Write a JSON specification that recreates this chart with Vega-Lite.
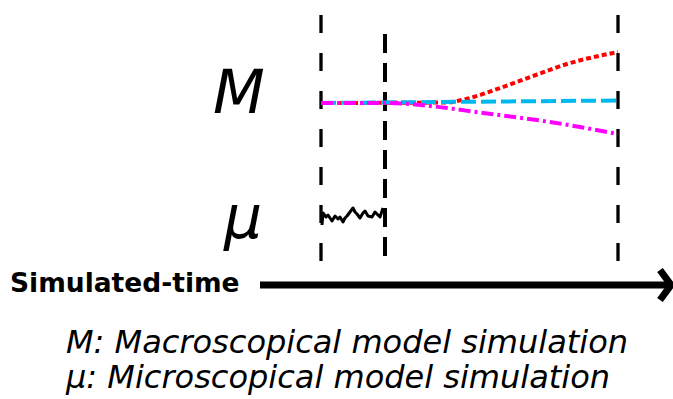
{
  "$schema": "https://vega.github.io/schema/vega-lite/v6.json",
  "width": 673,
  "height": 399,
  "autosize": {"type": "none"},
  "padding": 0,
  "background": "white",
  "config": {"view": {"stroke": null}},
  "datasets": {
    "vlines": [
      {"name": "start", "x": 321, "top": 15, "bottom": 267},
      {"name": "end", "x": 618, "top": 15, "bottom": 267}
    ],
    "vline2": [
      {"name": "switch", "x": 385, "top": 34, "bottom": 259}
    ],
    "red": [
      {"x": 321, "y": 103}, {"x": 445, "y": 102.5}, {"x": 470, "y": 98},
      {"x": 500, "y": 88}, {"x": 533, "y": 76}, {"x": 567, "y": 64}, {"x": 618, "y": 52}
    ],
    "cyan": [
      {"x": 321, "y": 103}, {"x": 618, "y": 100.5}
    ],
    "magenta": [
      {"x": 321, "y": 103}, {"x": 390, "y": 103}, {"x": 430, "y": 106},
      {"x": 483, "y": 113}, {"x": 550, "y": 122}, {"x": 618, "y": 134}
    ],
    "micro": [
      {"x": 322, "y": 225}, {"x": 323, "y": 213}, {"x": 326, "y": 217}, {"x": 328, "y": 215}, {"x": 332, "y": 221},
      {"x": 335, "y": 216}, {"x": 338, "y": 219}, {"x": 340, "y": 217}, {"x": 343, "y": 222},
      {"x": 345, "y": 218}, {"x": 347, "y": 216}, {"x": 350, "y": 212}, {"x": 353, "y": 208}, {"x": 355, "y": 212}, {"x": 357, "y": 214},
      {"x": 360, "y": 218}, {"x": 363, "y": 213}, {"x": 365, "y": 211}, {"x": 368, "y": 216},
      {"x": 372, "y": 217}, {"x": 375, "y": 212}, {"x": 377, "y": 214}, {"x": 380, "y": 217},
      {"x": 383, "y": 208}
    ],
    "arrow": [
      {"part": "shaft", "o": 1, "x": 260, "y": 285},
      {"part": "shaft", "o": 2, "x": 668, "y": 285},
      {"part": "head", "o": 1, "x": 660, "y": 270},
      {"part": "head", "o": 2, "x": 671, "y": 285},
      {"part": "head", "o": 3, "x": 660, "y": 300}
    ],
    "bigLabels": [
      {"x": 213, "y": 113, "text": "M"},
      {"x": 224, "y": 238, "text": "μ"}
    ],
    "axisLabel": [
      {"x": 10, "y": 292, "text": "Simulated-time"}
    ],
    "legend": [
      {"x": 66, "y": 353, "text": "M: Macroscopical model simulation"},
      {"x": 66, "y": 388, "text": "μ: Microscopical model simulation"}
    ]
  },
  "resolve": {"scale": {"x": "shared", "y": "shared"}},
  "encoding": {
    "x": {"field": "x", "type": "quantitative", "scale": {"domain": [0, 673], "nice": false, "zero": false}, "axis": null},
    "y": {"field": "y", "type": "quantitative", "scale": {"domain": [399, 0], "nice": false, "zero": false}, "axis": null}
  },
  "layer": [
    {
      "data": {"name": "vlines"},
      "mark": {"type": "rule", "color": "black", "strokeWidth": 3.3, "strokeDash": [18, 20], "strokeCap": "butt"},
      "encoding": {
        "y": {"field": "top", "type": "quantitative"},
        "y2": {"field": "bottom"}
      }
    },
    {
      "data": {"name": "vline2"},
      "mark": {"type": "rule", "color": "black", "strokeWidth": 4, "strokeDash": [19, 10], "strokeCap": "butt"},
      "encoding": {
        "y": {"field": "top", "type": "quantitative"},
        "y2": {"field": "bottom"}
      }
    },
    {
      "data": {"name": "red"},
      "mark": {"type": "line", "color": "#ff0000", "strokeWidth": 4, "strokeDash": [5, 3], "interpolate": "monotone"},
      "encoding": {}
    },
    {
      "data": {"name": "cyan"},
      "mark": {"type": "line", "color": "#00b8f0", "strokeWidth": 4, "strokeDash": [15, 5]},
      "encoding": {}
    },
    {
      "data": {"name": "magenta"},
      "mark": {"type": "line", "color": "#ff00ff", "strokeWidth": 4, "strokeDash": [12, 4, 3, 4], "interpolate": "monotone"},
      "encoding": {}
    },
    {
      "data": {"name": "micro"},
      "mark": {"type": "line", "color": "black", "strokeWidth": 3, "strokeJoin": "round"},
      "encoding": {}
    },
    {
      "data": {"name": "arrow"},
      "mark": {"type": "line", "color": "black", "strokeWidth": 7, "strokeCap": "butt", "strokeJoin": "miter"},
      "encoding": {
        "detail": {"field": "part"},
        "order": {"field": "o"}
      }
    },
    {
      "data": {"name": "bigLabels"},
      "mark": {"type": "text", "font": "DejaVu Sans", "fontStyle": "italic", "fontSize": 60, "align": "left", "baseline": "alphabetic", "color": "black"},
      "encoding": {"text": {"field": "text"}}
    },
    {
      "data": {"name": "axisLabel"},
      "mark": {"type": "text", "font": "DejaVu Sans", "fontWeight": "bold", "fontSize": 26.5, "align": "left", "baseline": "alphabetic", "color": "black"},
      "encoding": {"text": {"field": "text"}}
    },
    {
      "data": {"name": "legend"},
      "mark": {"type": "text", "font": "DejaVu Sans", "fontStyle": "italic", "fontSize": 32, "align": "left", "baseline": "alphabetic", "color": "black"},
      "encoding": {"text": {"field": "text"}}
    }
  ]
}
